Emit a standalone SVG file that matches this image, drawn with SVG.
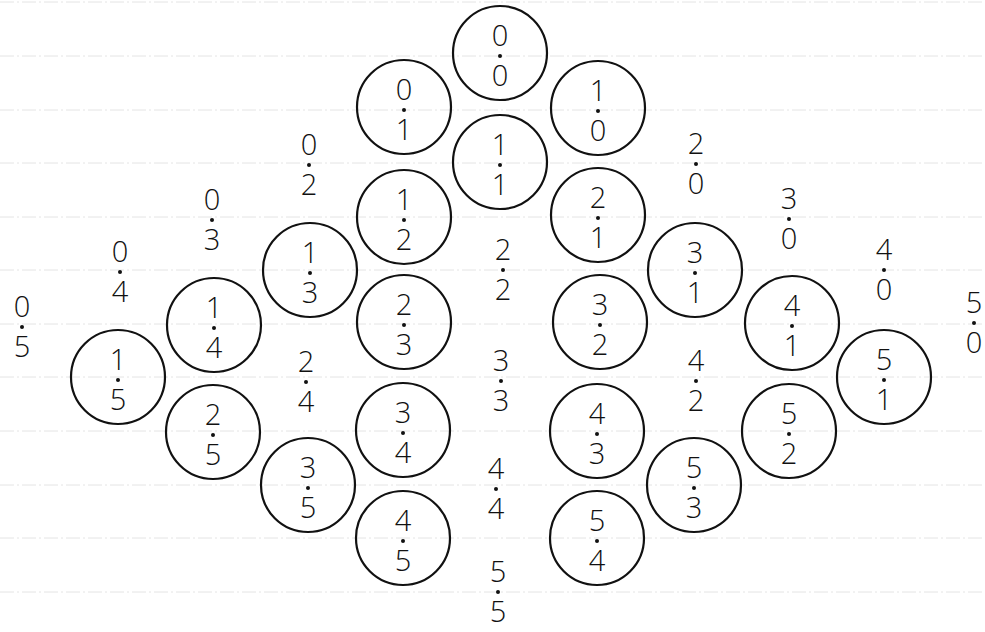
<svg xmlns="http://www.w3.org/2000/svg" width="985" height="632" viewBox="0 0 985 632">
<style>
.rule{stroke:#e4e4e4;stroke-width:1;stroke-dasharray:14 3 2 3}
.ring{fill:none;stroke:#111;stroke-width:2.2}
.d{font-family:"Open Sans","Liberation Sans",sans-serif;font-weight:300;font-size:29px;fill:#111;text-anchor:middle}
.dot{fill:#111}
</style>
<rect width="985" height="632" fill="#fff"/>
<g id="paper">
<line class="rule" x1="0" y1="2" x2="985" y2="2"/>
<line class="rule" x1="0" y1="56" x2="985" y2="56"/>
<line class="rule" x1="0" y1="110" x2="985" y2="110"/>
<line class="rule" x1="0" y1="163" x2="985" y2="163"/>
<line class="rule" x1="0" y1="217" x2="985" y2="217"/>
<line class="rule" x1="0" y1="270" x2="985" y2="270"/>
<line class="rule" x1="0" y1="324" x2="985" y2="324"/>
<line class="rule" x1="0" y1="377" x2="985" y2="377"/>
<line class="rule" x1="0" y1="431" x2="985" y2="431"/>
<line class="rule" x1="0" y1="485" x2="985" y2="485"/>
<line class="rule" x1="0" y1="538" x2="985" y2="538"/>
<line class="rule" x1="0" y1="592" x2="985" y2="592"/>
</g>
<g id="connectors"></g>

<g id="n00"><circle class="ring" cx="500" cy="53" r="47"/><text class="d" x="500" y="46">0</text><circle class="dot" cx="500" cy="56" r="2"/><text class="d" x="500" y="86">0</text></g>
<g id="n01"><circle class="ring" cx="404" cy="107" r="47"/><text class="d" x="404" y="100">0</text><circle class="dot" cx="404" cy="110" r="2"/><text class="d" x="404" y="140">1</text></g>
<g id="n10"><circle class="ring" cx="598" cy="108" r="47"/><text class="d" x="598" y="101">1</text><circle class="dot" cx="598" cy="111" r="2"/><text class="d" x="598" y="141">0</text></g>
<g id="n11"><circle class="ring" cx="500" cy="162" r="47"/><text class="d" x="500" y="155">1</text><circle class="dot" cx="500" cy="165" r="2"/><text class="d" x="500" y="195">1</text></g>
<g id="n12"><circle class="ring" cx="404" cy="217" r="47"/><text class="d" x="404" y="210">1</text><circle class="dot" cx="404" cy="220" r="2"/><text class="d" x="404" y="250">2</text></g>
<g id="n21"><circle class="ring" cx="598" cy="215" r="47"/><text class="d" x="598" y="208">2</text><circle class="dot" cx="598" cy="218" r="2"/><text class="d" x="598" y="248">1</text></g>
<g id="n13"><circle class="ring" cx="310" cy="270" r="47"/><text class="d" x="310" y="263">1</text><circle class="dot" cx="310" cy="273" r="2"/><text class="d" x="310" y="303">3</text></g>
<g id="n31"><circle class="ring" cx="695" cy="270" r="47"/><text class="d" x="695" y="263">3</text><circle class="dot" cx="695" cy="273" r="2"/><text class="d" x="695" y="303">1</text></g>
<g id="n23"><circle class="ring" cx="404" cy="322" r="47"/><text class="d" x="404" y="315">2</text><circle class="dot" cx="404" cy="325" r="2"/><text class="d" x="404" y="355">3</text></g>
<g id="n32"><circle class="ring" cx="600" cy="322" r="47"/><text class="d" x="600" y="315">3</text><circle class="dot" cx="600" cy="325" r="2"/><text class="d" x="600" y="355">2</text></g>
<g id="n14"><circle class="ring" cx="214" cy="325" r="47"/><text class="d" x="214" y="318">1</text><circle class="dot" cx="214" cy="328" r="2"/><text class="d" x="214" y="358">4</text></g>
<g id="n41"><circle class="ring" cx="792" cy="323" r="47"/><text class="d" x="792" y="316">4</text><circle class="dot" cx="792" cy="326" r="2"/><text class="d" x="792" y="356">1</text></g>
<g id="n15"><circle class="ring" cx="118" cy="377" r="47"/><text class="d" x="118" y="370">1</text><circle class="dot" cx="118" cy="380" r="2"/><text class="d" x="118" y="410">5</text></g>
<g id="n51"><circle class="ring" cx="884" cy="377" r="47"/><text class="d" x="884" y="370">5</text><circle class="dot" cx="884" cy="380" r="2"/><text class="d" x="884" y="410">1</text></g>
<g id="n25"><circle class="ring" cx="213" cy="432" r="47"/><text class="d" x="213" y="425">2</text><circle class="dot" cx="213" cy="435" r="2"/><text class="d" x="213" y="465">5</text></g>
<g id="n52"><circle class="ring" cx="789" cy="431" r="47"/><text class="d" x="789" y="424">5</text><circle class="dot" cx="789" cy="434" r="2"/><text class="d" x="789" y="464">2</text></g>
<g id="n34"><circle class="ring" cx="403" cy="430" r="47"/><text class="d" x="403" y="423">3</text><circle class="dot" cx="403" cy="433" r="2"/><text class="d" x="403" y="463">4</text></g>
<g id="n43"><circle class="ring" cx="597" cy="431" r="47"/><text class="d" x="597" y="424">4</text><circle class="dot" cx="597" cy="434" r="2"/><text class="d" x="597" y="464">3</text></g>
<g id="n35"><circle class="ring" cx="308" cy="485" r="47"/><text class="d" x="308" y="478">3</text><circle class="dot" cx="308" cy="488" r="2"/><text class="d" x="308" y="518">5</text></g>
<g id="n53"><circle class="ring" cx="694" cy="485" r="47"/><text class="d" x="694" y="478">5</text><circle class="dot" cx="694" cy="488" r="2"/><text class="d" x="694" y="518">3</text></g>
<g id="n45"><circle class="ring" cx="403" cy="538" r="47"/><text class="d" x="403" y="531">4</text><circle class="dot" cx="403" cy="541" r="2"/><text class="d" x="403" y="571">5</text></g>
<g id="n54"><circle class="ring" cx="597" cy="538" r="47"/><text class="d" x="597" y="531">5</text><circle class="dot" cx="597" cy="541" r="2"/><text class="d" x="597" y="571">4</text></g>

<g id="n02"><text class="d" x="309" y="155">0</text><circle class="dot" cx="309" cy="165" r="2"/><text class="d" x="309" y="195">2</text></g>
<g id="n20"><text class="d" x="696" y="154">2</text><circle class="dot" cx="696" cy="164" r="2"/><text class="d" x="696" y="194">0</text></g>
<g id="n03"><text class="d" x="212" y="210">0</text><circle class="dot" cx="212" cy="220" r="2"/><text class="d" x="212" y="250">3</text></g>
<g id="n30"><text class="d" x="789" y="209">3</text><circle class="dot" cx="789" cy="219" r="2"/><text class="d" x="789" y="249">0</text></g>
<g id="n04"><text class="d" x="120" y="262">0</text><circle class="dot" cx="120" cy="272" r="2"/><text class="d" x="120" y="302">4</text></g>
<g id="n40"><text class="d" x="884" y="260">4</text><circle class="dot" cx="884" cy="270" r="2"/><text class="d" x="884" y="300">0</text></g>
<g id="n05"><text class="d" x="22" y="317">0</text><circle class="dot" cx="22" cy="327" r="2"/><text class="d" x="22" y="357">5</text></g>
<g id="n50"><text class="d" x="974" y="313">5</text><circle class="dot" cx="974" cy="323" r="2"/><text class="d" x="974" y="353">0</text></g>
<g id="n22"><text class="d" x="503" y="260">2</text><circle class="dot" cx="503" cy="270" r="2"/><text class="d" x="503" y="300">2</text></g>
<g id="n33"><text class="d" x="501" y="371">3</text><circle class="dot" cx="501" cy="381" r="2"/><text class="d" x="501" y="411">3</text></g>
<g id="n24"><text class="d" x="306" y="372">2</text><circle class="dot" cx="306" cy="382" r="2"/><text class="d" x="306" y="412">4</text></g>
<g id="n42"><text class="d" x="696" y="371">4</text><circle class="dot" cx="696" cy="381" r="2"/><text class="d" x="696" y="411">2</text></g>
<g id="n44"><text class="d" x="496" y="479">4</text><circle class="dot" cx="496" cy="489" r="2"/><text class="d" x="496" y="519">4</text></g>
<g id="n55"><text class="d" x="498" y="582">5</text><circle class="dot" cx="498" cy="592" r="2"/><text class="d" x="498" y="622">5</text></g>
</svg>
